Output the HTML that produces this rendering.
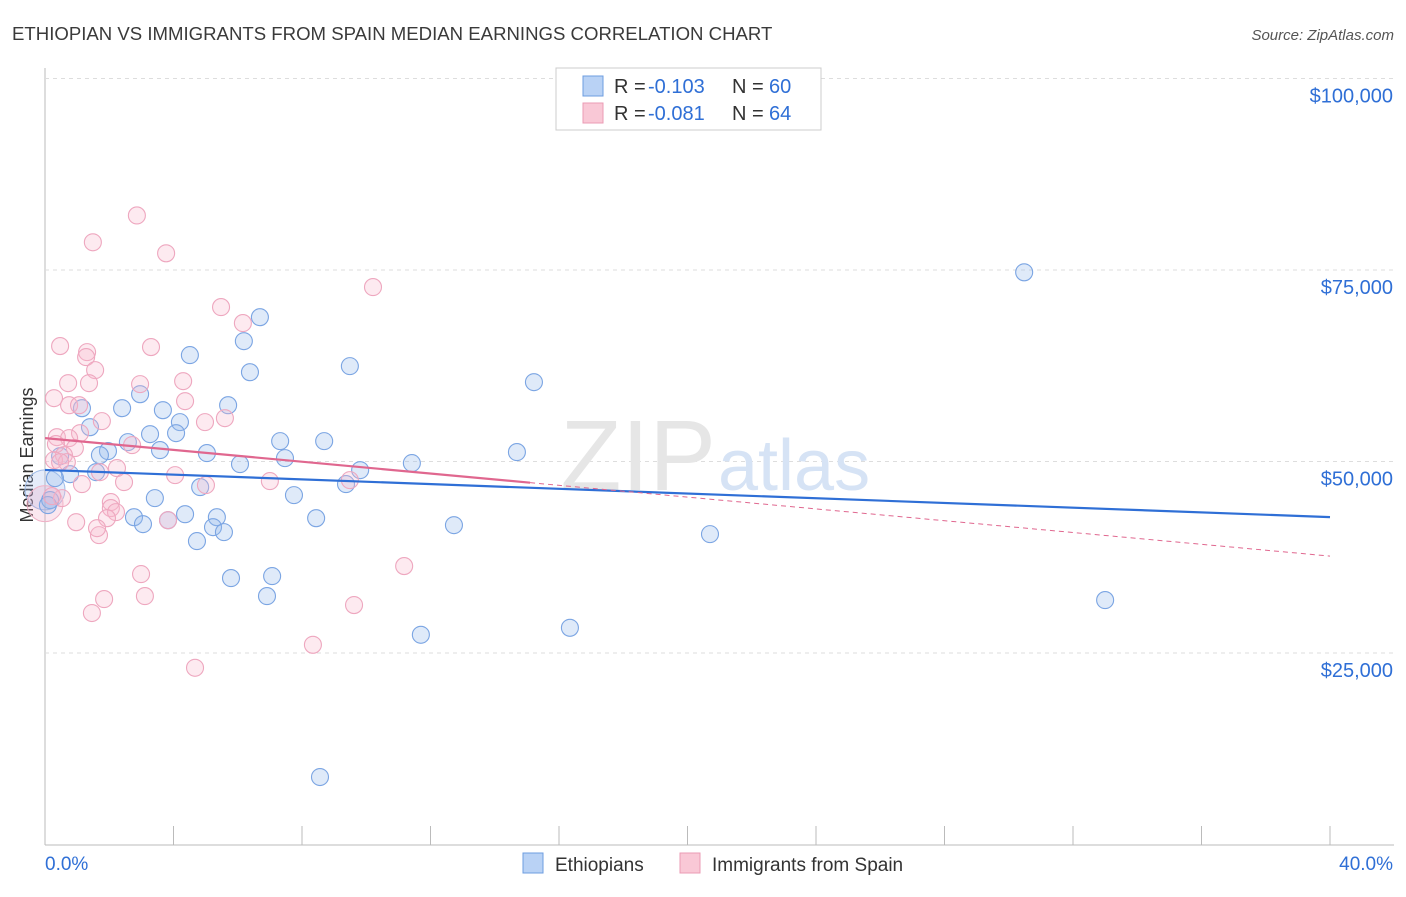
<!DOCTYPE html>
<html><head><meta charset="utf-8"><style>
body{margin:0;background:#fff;font-family:"Liberation Sans",sans-serif;}
svg text{font-family:"Liberation Sans",sans-serif;}
</style></head><body>
<svg id="chart" width="1406" height="892">
<text x="12" y="40" font-size="18.6" fill="#3a3a3a">ETHIOPIAN VS IMMIGRANTS FROM SPAIN MEDIAN EARNINGS CORRELATION CHART</text>
<text x="1394" y="40" font-size="15" fill="#555" text-anchor="end" font-style="italic">Source: ZipAtlas.com</text>
<text x="33" y="455" font-size="18" fill="#333" text-anchor="middle" transform="rotate(-90 33 455)">Median Earnings</text>
<g id="grid"></g>
<text x="716" y="490" font-size="100" fill="#e6e6e6" text-anchor="end" font-family="Liberation Serif">ZIP</text>
<text x="718" y="490" font-size="72" fill="#d6e3f5">atlas</text>
<g id="pts"></g>
<g id="lines"></g>
<g>
<rect x="556" y="68" width="265" height="62" fill="#fff" stroke="#ccc"/>
<rect x="583" y="76" width="20" height="20" fill="#b9d2f5" stroke="#6d9de0"/>
<rect x="583" y="103" width="20" height="20" fill="#f9c8d6" stroke="#eb9bb4"/>
<text x="614" y="93" font-size="20" fill="#333">R =</text>
<text x="648" y="93" font-size="20" fill="#2f6fd6">-0.103</text>
<text x="732" y="93" font-size="20" fill="#333">N =</text>
<text x="769" y="93" font-size="20" fill="#2f6fd6">60</text>
<text x="614" y="120" font-size="20" fill="#333">R =</text>
<text x="648" y="120" font-size="20" fill="#2f6fd6">-0.081</text>
<text x="732" y="120" font-size="20" fill="#333">N =</text>
<text x="769" y="120" font-size="20" fill="#2f6fd6">64</text>
</g>
<g>
<rect x="523" y="853" width="20" height="20" fill="#b9d2f5" stroke="#6d9de0"/>
<text x="555" y="871" font-size="19" fill="#333">Ethiopians</text>
<rect x="680" y="853" width="20" height="20" fill="#f9c8d6" stroke="#eb9bb4"/>
<text x="712" y="871" font-size="19" fill="#333">Immigrants from Spain</text>
</g>
</svg>
<script>
const yTicks=[25000,50000,75000,100000];
const yTickLabels=["$25,000","$50,000","$75,000","$100,000"];
const xEndLabels=["0.0%","40.0%"];
const blueX=[30.48,6.69,6.19,4.51,9.49,6.38,15.22,2.96,5.70,2.40,3.67,1.15,4.20,1.40,4.08,3.27,7.32,8.69,2.58,3.58,1.96,1.71,14.69,5.04,0.47,7.47,6.07,11.42,9.81,1.59,0.78,9.37,0.31,7.75,3.42,4.83,4.36,8.44,2.77,3.83,5.35,3.05,12.73,5.23,5.57,4.73,20.70,5.79,7.07,6.91,33.0,11.70,16.34,8.56,0.16,0.09];
const blueY=[74700,68840,65710,63890,62450,61660,60360,58790,57350,56960,56700,56960,55140,54480,53700,53570,52660,52660,52530,51490,51360,50830,51230,51100,50700,50440,49660,49790,48870,48610,48350,47050,47830,45610,45220,46660,43120,42600,42730,42340,42730,41820,41690,41430,40780,39610,40520,34780,35040,32430,31910,27380,28290,8810,44960,44310];
const pinkX=[2.86,1.49,3.77,10.21,5.48,6.16,0.47,3.30,1.31,1.28,1.56,4.30,0.72,1.37,2.96,4.36,0.28,0.75,1.06,1.09,5.60,4.98,1.77,0.37,0.75,0.34,2.71,0.93,0.59,0.28,0.68,0.47,2.24,1.71,4.05,7.00,5.01,9.49,1.15,2.46,2.05,0.53,0.22,2.05,2.21,1.93,3.83,0.97,1.68,1.62,2.99,1.84,3.11,1.46,9.62,11.18,8.34,4.67];
const pinkY=[82120,78620,77180,72770,70160,68070,65070,64940,64280,63630,61930,60490,60230,60230,60100,57880,58270,57350,57350,53700,55660,55140,55270,53180,53050,52270,52140,51750,50830,50180,49920,49920,49140,48610,48220,47440,46920,47570,47050,47310,44700,45220,45480,43920,43390,42600,42340,42080,40390,41300,35300,32040,32430,30220,31260,36350,26070,23070];
const blueTrend=[48900,42740];
const pinkTrend=[53050,37650];
const pinkSolidEnd=15.1;
const X=v=>45+v/40*1285, Y=v=>844.5-v/25000*191.5;
const NS="http://www.w3.org/2000/svg";
function mk(t,a,p){const e=document.createElementNS(NS,t);for(const k in a)e.setAttribute(k,a[k]);p.appendChild(e);return e;}
const grid=document.getElementById('grid');
mk('line',{x1:45,y1:68,x2:45,y2:845,stroke:'#bbb'},grid);
mk('line',{x1:45,y1:845,x2:1394,y2:845,stroke:'#bbb'},grid);
for(let i=0;i<=10;i++){const l=mk('line',{x1:X(i*4),y1:826,x2:X(i*4),y2:845,stroke:'#bbb'},grid);

}
yTicks.forEach((t,i)=>{const l=mk('line',{x1:45,y1:Y(t),x2:1394,y2:Y(t),stroke:'#ddd','stroke-dasharray':'4,4'},grid);


const tx=mk('text',{x:1393,y:Y(t)+24,'font-size':20,fill:'#2f6fd6','text-anchor':'end'},grid);tx.textContent=yTickLabels[i];

});
const a=mk('text',{x:45,y:870,'font-size':19,fill:'#2f6fd6'},grid);a.textContent=xEndLabels[0];


const b=mk('text',{x:1393,y:870,'font-size':19,fill:'#2f6fd6','text-anchor':'end'},grid);b.textContent=xEndLabels[1];


const pts=document.getElementById('pts');
const big1=mk('circle',{cx:X(0),cy:Y(46300),r:20,fill:'rgba(150,180,235,0.25)',stroke:'#9dbbe8'},pts);


const big2=mk('circle',{cx:X(0),cy:Y(44500),r:18,fill:'rgba(240,160,190,0.25)',stroke:'#f0b3c7'},pts);


blueX.forEach((x,i)=>{const c=mk('circle',{cx:X(x),cy:Y(blueY[i]),r:8.5,fill:'rgba(150,185,235,0.3)',stroke:'#7ba5e3','stroke-width':1.1},pts);

});
pinkX.forEach((x,i)=>{const c=mk('circle',{cx:X(x),cy:Y(pinkY[i]),r:8.5,fill:'rgba(248,185,205,0.3)',stroke:'#eea7bf','stroke-width':1.1},pts);

});
const lines=document.getElementById('lines');
const pAt=x=>pinkTrend[0]+(pinkTrend[1]-pinkTrend[0])*x/40;
const bl=mk('line',{x1:X(0),y1:Y(blueTrend[0]),x2:X(40),y2:Y(blueTrend[1]),stroke:'#2f6fd6','stroke-width':2.2},lines);


const pl=mk('line',{x1:X(0),y1:Y(pinkTrend[0]),x2:X(pinkSolidEnd),y2:Y(pAt(pinkSolidEnd)),stroke:'#e0678f','stroke-width':2.2},lines);


const pd=mk('line',{x1:X(pinkSolidEnd),y1:Y(pAt(pinkSolidEnd)),x2:X(40),y2:Y(pinkTrend[1]),stroke:'#e0678f','stroke-width':1,'stroke-dasharray':'5,4'},lines);


</script>
</body></html>
